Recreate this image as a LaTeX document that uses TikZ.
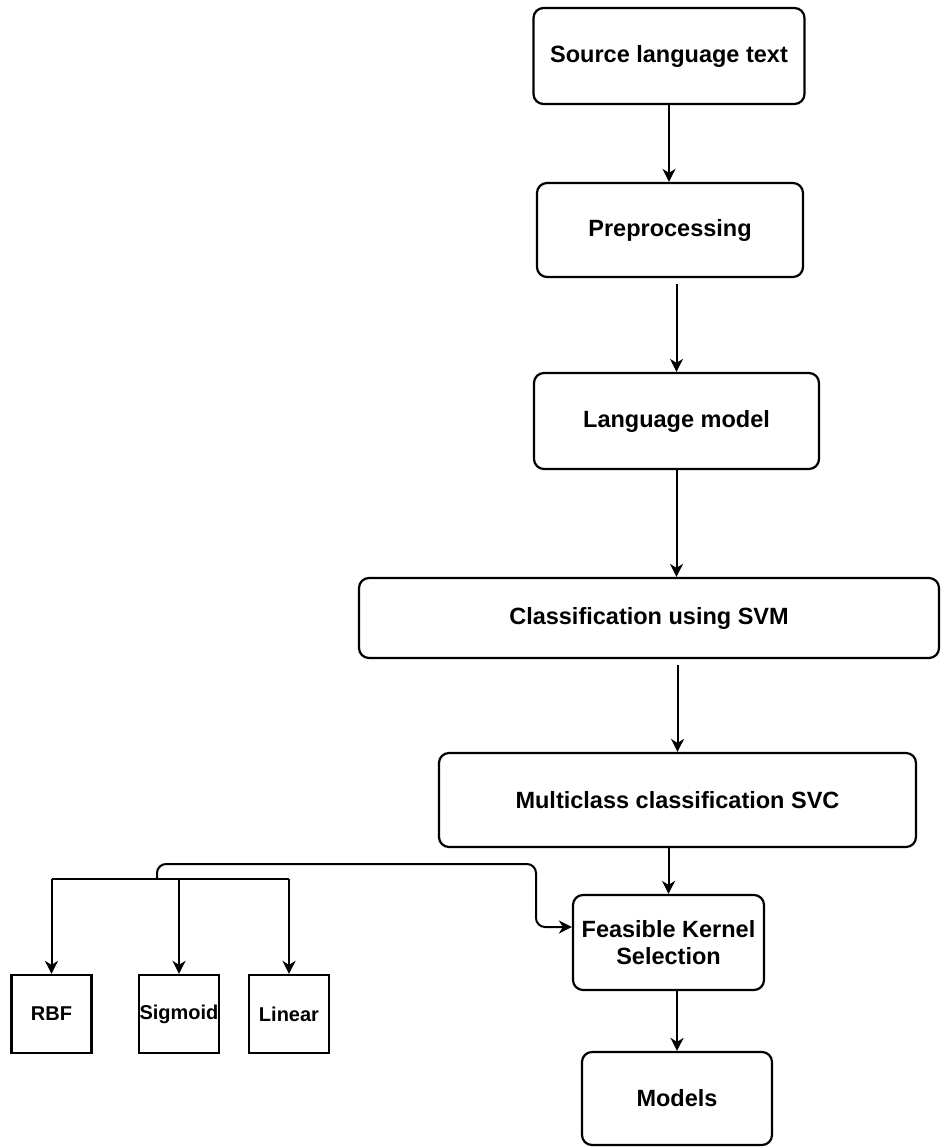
\documentclass[tikz,border=0pt]{standalone}
\usepackage{fontspec}
\setmainfont{Liberation Sans}
\usetikzlibrary{arrows.meta,calc}

\tikzset{
  flowbox/.style={draw=black, line width=2.2pt, rounded corners=10pt, inner sep=0pt,
    align=center, font=\fontsize{23.5}{27}\selectfont\bfseries},
  kernelbox/.style={draw=black, line width=2.2pt, inner sep=0pt,
    minimum width=80pt, minimum height=78pt, font=\fontsize{20}{24}\selectfont\bfseries},
  arr/.style={draw=black, line width=2pt,
    -{Stealth[length=13pt,width=13pt,inset=4pt]}},
  link/.style={draw=black, line width=2pt},
}

\begin{document}
\begin{tikzpicture}[x=1pt, y=-1pt]
\useasboundingbox (0,0) rectangle (940,1147);

% main pipeline
\node[flowbox, minimum width=271pt, minimum height=96pt] (src) at (669,56) {Source language text};
\node[flowbox, minimum width=266pt, minimum height=94pt] (pre) at (670,230) {Preprocessing};
\node[flowbox, minimum width=285pt, minimum height=96pt] (lm) at (676.5,421) {Language model};
\node[flowbox, minimum width=580pt, minimum height=80pt] (svm) at (649,618) {Classification using SVM};
\node[flowbox, minimum width=477pt, minimum height=94pt] (svc) at (677.5,800) {Multiclass classification SVC};
\node[flowbox, minimum width=191pt, minimum height=95pt] (fks) at (668.5,942.5) {Feasible Kernel\\Selection};
\node[flowbox, minimum width=190pt, minimum height=93pt] (models) at (677,1098.5) {Models};

% kernel choices
\node[kernelbox] (rbf) at (51.5,1014) {RBF};
\node[kernelbox] (sig) at (179,1014) {Sigmoid};
\node[kernelbox] (lin) at (289,1014) {Linear};

% vertical flow
\draw[arr] (src.south) -- (src.south |- pre.north);
\draw[arr, shorten <=6pt] (pre.south -| lm.north) -- (lm.north);
\draw[arr] (lm.south) -- (lm.south |- svm.north);
\draw[arr, shorten <=6pt] (svm.south -| svc.north) -- (svc.north);
\draw[arr] (svc.south -| fks.north) -- (fks.north);
\draw[arr] (fks.south -| models.north) -- (models.north);

% branch to the kernels
\coordinate (hub) at (157,879);
\draw[link] (rbf.north |- hub) -- (lin.north |- hub);
\draw[arr] (rbf.north |- hub) -- (rbf.north);
\draw[arr] (sig.north |- hub) -- (sig.north);
\draw[arr] (lin.north |- hub) -- (lin.north);
\draw[arr, rounded corners=9pt] (hub) -- (hub |- 0,864) -- (536,864) -- (536,927) -- ([yshift=15.5pt]fks.west);
\end{tikzpicture}
\end{document}
